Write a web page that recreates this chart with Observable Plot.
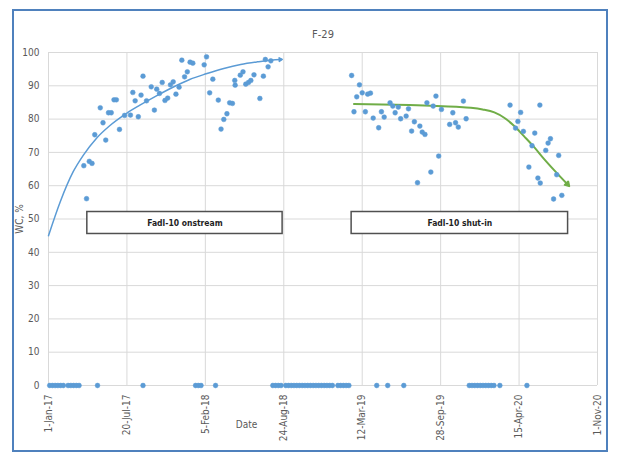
<!DOCTYPE html>
<html>
<head>
<meta charset="utf-8">
<script src="https://cdn.jsdelivr.net/npm/d3@7"></script>
<script src="https://cdn.jsdelivr.net/npm/@observablehq/plot@0.6"></script>
<style>
  body { margin: 0; background: #fff; }
  #chart { position: relative; width: 618px; height: 466px; }
  #border { position: absolute; left: 12px; top: 9px; width: 596px; height: 443px;
            box-sizing: border-box; border: 2px solid #4f81bd; pointer-events: none; }
  #chart svg { font-family: "Liberation Sans Narrow", "DejaVu Sans Condensed", "Open Sans", sans-serif; }
</style>
</head>
<body>
<div id="chart"><div id="border"></div></div>
<script>
// Well F-29 water cut (WC, %) by test date

// Tests while Fadl-10 was on stream
const onstreamDates = [
  "2017-04-01","2017-04-08","2017-04-15","2017-04-22","2017-04-29","2017-05-13","2017-05-20","2017-05-27",
  "2017-06-03","2017-06-10","2017-06-17","2017-06-23","2017-07-01","2017-07-14","2017-07-29","2017-08-04",
  "2017-08-10","2017-08-18","2017-08-25","2017-08-30","2017-09-08","2017-09-20","2017-09-28","2017-10-04",
  "2017-10-11","2017-10-18","2017-10-25","2017-11-01","2017-11-08","2017-11-15","2017-11-22","2017-11-30",
  "2017-12-07","2017-12-14","2017-12-21","2017-12-28","2018-01-04","2018-02-02","2018-02-08","2018-02-16",
  "2018-02-24","2018-03-10","2018-03-17","2018-03-24","2018-04-01","2018-04-08","2018-04-15","2018-04-21",
  "2018-04-22","2018-05-05","2018-05-12","2018-05-19","2018-05-26","2018-06-01","2018-06-09","2018-06-24",
  "2018-07-03","2018-07-08","2018-07-15","2018-07-22"
];
const onstreamWC = [
  66.0, 56.1, 67.3, 66.7, 75.3, 83.4, 78.9, 73.7,
  81.9, 81.9, 85.8, 85.8, 76.9, 81.1, 81.2, 88.0,
  85.5, 80.7, 87.2, 92.9, 85.5, 89.7, 82.7, 89.0,
  87.7, 91.0, 85.6, 86.3, 90.3, 91.2, 87.5, 89.6,
  97.7, 92.7, 94.2, 97.1, 96.8, 96.3, 98.7, 87.9,
  92.0, 85.7, 77.0, 79.9, 81.6, 84.9, 84.7, 91.6,
  90.2, 93.2, 94.2, 90.5, 91.0, 91.6, 93.3, 86.2,
  92.9, 97.9, 95.7, 97.5
];

// Tests while Fadl-10 was shut in
const shutinDates = [
  "2019-02-13","2019-02-19","2019-02-26","2019-03-05","2019-03-12","2019-03-20","2019-03-26","2019-04-02",
  "2019-04-09","2019-04-23","2019-04-30","2019-05-07","2019-05-22","2019-05-29","2019-06-04","2019-06-12",
  "2019-06-18","2019-07-02","2019-07-08","2019-07-16","2019-07-23","2019-07-31","2019-08-06","2019-08-12",
  "2019-08-19","2019-08-24","2019-09-03","2019-09-09","2019-09-16","2019-09-23","2019-09-30","2019-10-21",
  "2019-10-29","2019-11-05","2019-11-12","2019-11-25","2019-12-02","2020-03-23","2020-04-06","2020-04-12",
  "2020-04-19","2020-04-26","2020-05-10","2020-05-18","2020-05-25","2020-06-02","2020-06-07","2020-06-08",
  "2020-06-22","2020-06-28","2020-07-04","2020-07-12","2020-07-20","2020-07-25","2020-08-02"
];
const shutinWC = [
  93.1, 82.2, 86.7, 90.3, 87.9, 82.2, 87.5, 87.8,
  80.3, 77.4, 82.2, 80.6, 84.9, 83.9, 81.9, 83.6,
  80.1, 80.9, 83.1, 76.4, 79.2, 60.9, 77.9, 76.1,
  75.4, 84.9, 64.1, 83.9, 86.9, 68.9, 82.9, 78.4,
  81.9, 78.9, 77.6, 85.4, 80.1, 84.2, 77.3, 79.3,
  82.0, 76.3, 65.6, 72.0, 75.8, 62.3, 84.2, 60.8,
  70.6, 72.8, 74.1, 56.0, 63.3, 69.1, 57.1
];

// Tests that returned zero water cut
const zeroDates = [
  "2017-01-04","2017-01-11","2017-01-18","2017-01-25","2017-02-01","2017-02-08",
  "2017-02-20","2017-02-27","2017-03-06","2017-03-13","2017-03-20",
  "2017-05-06","2017-08-30",
  "2018-01-11","2018-01-18","2018-01-25","2018-03-03",
  "2018-07-27","2018-08-03","2018-08-10","2018-08-17",
  "2018-08-29","2018-09-05","2018-09-12","2018-09-19","2018-09-26","2018-10-03","2018-10-10","2018-10-17",
  "2018-10-24","2018-10-31","2018-11-07","2018-11-14","2018-11-21","2018-11-28","2018-12-05","2018-12-12",
  "2018-12-19","2018-12-26",
  "2019-01-09","2019-01-16","2019-01-23","2019-01-30","2019-02-06",
  "2019-04-18","2019-05-16","2019-06-26",
  "2019-12-10","2019-12-17","2019-12-24","2019-12-31","2020-01-07","2020-01-14","2020-01-21","2020-01-28",
  "2020-02-04","2020-02-11","2020-02-26","2020-05-05"
];

// Fitted trend for the on-stream period
const trendOnDates = ["2017-01-01","2017-01-31","2017-03-05","2017-03-31","2017-05-03","2017-06-06","2017-07-20",
  "2017-08-21","2017-10-02","2017-11-13","2017-12-27","2018-02-07","2018-03-24","2018-05-06","2018-06-18",
  "2018-07-22","2018-08-18"];
const trendOnWC = [45.0, 55.2, 64.2, 69.2, 74.2, 78.0, 81.8, 84.1, 86.9, 89.5, 91.9, 93.6, 95.2, 96.4, 97.2, 97.7, 97.9];

// Fitted trend for the shut-in period
const trendShutDates = ["2019-02-19","2019-05-01","2019-07-10","2019-09-03","2019-11-07","2019-12-14","2020-01-13",
  "2020-02-12","2020-03-08","2020-04-02","2020-04-28","2020-05-24","2020-06-18","2020-07-14","2020-08-19"];
const trendShutWC = [84.5, 84.4, 84.2, 84.0, 83.7, 83.4, 82.9, 82.0, 80.4, 78.0, 74.8, 71.5, 68.0, 64.6, 60.1];

// Period annotations
const noteLabels = ["Fadl-10 onstream", "Fadl-10 shut-in"];
const noteStart = ["2017-04-10", "2019-02-13"];
const noteEnd = ["2018-08-21", "2020-08-18"];
const noteLow = [45.5, 45.5];
const noteHigh = [52.1, 52.1];

// Axis ticks
const xTickDates = ["2017-01-01","2017-07-20","2018-02-05","2018-08-24","2019-03-12","2019-09-28","2020-04-15","2020-11-01"];
const yTicks = [0, 10, 20, 30, 40, 50, 60, 70, 80, 90, 100];

const title = "F-29";
const yTitle = "WC, %";
const xTitle = "Date";

const toRows = (dates, values) => dates.map((d, i) => ({date: new Date(d), wc: values[i]}));
const onstream = toRows(onstreamDates, onstreamWC);
const shutin = toRows(shutinDates, shutinWC);
const zeros = zeroDates.map(d => ({date: new Date(d), wc: 0}));
const trendOn = toRows(trendOnDates, trendOnWC);
const trendShut = toRows(trendShutDates, trendShutWC);
const notes = noteLabels.map((label, i) => ({
  label, x1: new Date(noteStart[i]), x2: new Date(noteEnd[i]), y1: noteLow[i], y2: noteHigh[i]
}));
const xTicks = xTickDates.map(d => new Date(d));

const blue = "#5b9bd5";
const green = "#70ad47";
const gray = "#595959";

const chart = Plot.plot({
  width: 618,
  height: 466,
  marginLeft: 48,
  marginRight: 21,
  marginTop: 52,
  marginBottom: 81,
  style: {fontSize: "10px", color: gray, background: "transparent"},
  x: {type: "utc", domain: [new Date("2017-01-01"), new Date("2020-11-01")]},
  y: {domain: [0, 100]},
  marks: [
    Plot.gridY(yTicks, {stroke: "#d9d9d9", strokeOpacity: 1}),
    Plot.gridX(xTicks, {stroke: "#d9d9d9", strokeOpacity: 1}),
    Plot.axisY(yTicks, {tickSize: 0, tickPadding: 9, label: null, fill: gray}),
    Plot.axisX(xTicks, {tickSize: 0, tickPadding: 9, tickRotate: -90, label: null, fill: gray,
      tickFormat: d3.utcFormat("%-d-%b-%y")}),
    Plot.line(trendOn, {x: "date", y: "wc", stroke: blue, strokeWidth: 1.5, curve: "monotone-x", markerEnd: "arrow"}),
    Plot.line(trendShut, {x: "date", y: "wc", stroke: green, strokeWidth: 2, curve: "monotone-x", markerEnd: "arrow"}),
    Plot.dot(onstream, {x: "date", y: "wc", r: 2.4, fill: blue, stroke: blue, strokeWidth: 0.5}),
    Plot.dot(shutin, {x: "date", y: "wc", r: 2.4, fill: blue, stroke: blue, strokeWidth: 0.5}),
    Plot.dot(zeros, {x: "date", y: "wc", r: 2.4, fill: blue, stroke: blue, strokeWidth: 0.5}),
    Plot.rect(notes, {x1: "x1", x2: "x2", y1: "y1", y2: "y2", fill: "white", stroke: "#505050", strokeWidth: 1.5}),
    Plot.text(notes, {x: d => new Date((+d.x1 + +d.x2) / 2), y: d => (d.y1 + d.y2) / 2, text: "label",
      fill: "#1f1f1f", fontSize: 8.5, fontWeight: 600}),
    Plot.text([title], {frameAnchor: "top", dy: -22, fill: gray, fontSize: 11}),
    Plot.text([yTitle], {frameAnchor: "left", dx: -29, rotate: -90, textAnchor: "middle", fill: gray, fontSize: 10}),
    Plot.text([xTitle], {frameAnchor: "bottom-left", dx: 198, dy: 42, textAnchor: "middle", fill: gray, fontSize: 10})
  ]
});

// Trend-line ends drawn as small solid arrowheads
chart.querySelectorAll("marker").forEach(m => {
  m.setAttribute("fill", m.getAttribute("stroke") || "currentColor");
  const p = m.querySelector("path");
  if (p) p.setAttribute("d", "M-2.2,-1.8L0.8,0L-2.2,1.8Z");
});

document.getElementById("chart").prepend(chart);
</script>
</body>
</html>
